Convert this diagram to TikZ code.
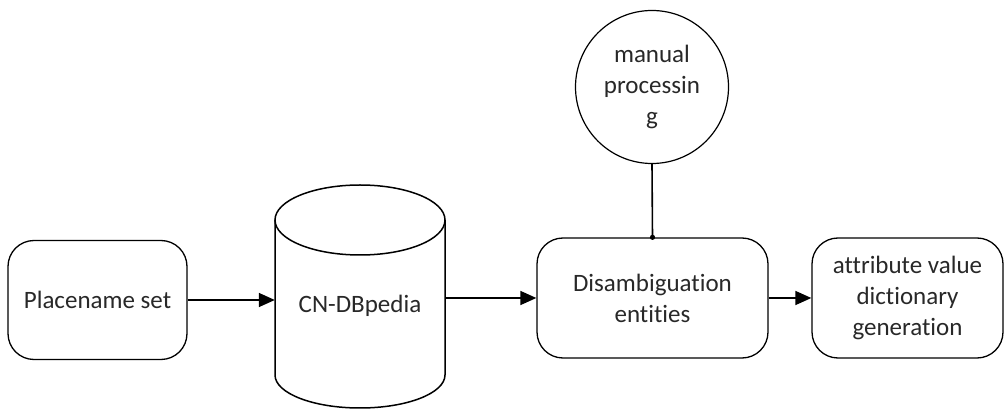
\documentclass[tikz,border=0pt]{standalone}
\usepackage{fontspec}
\setmainfont{Carlito}[Ligatures={NoCommon,NoDiscretionary,NoContextual}]
\usetikzlibrary{arrows.meta}
\definecolor{txt}{RGB}{40,40,40}
\begin{document}
\begin{tikzpicture}[x=1pt,y=-1pt,
  lbl/.style={font=\fontsize{25}{31}\selectfont, text=txt, align=center},
  rbox/.style={draw, line width=1.3pt, rounded corners=26pt, lbl},
  conn/.style={line width=1.6pt, -{Triangle[length=16pt,width=14pt]}}]
\useasboundingbox (0,0) rectangle (1004,411);
% Placename set
\node[rbox, minimum width=179pt, minimum height=119pt] (ps) at (97.5,300) {Placename set};
% cylinder
\node[minimum width=170pt, minimum height=223pt, inner sep=0pt] (db) at (360,296.5) {};
\draw[line width=1.5pt, fill=white] (275,220) -- (275,375) arc[start angle=180,end angle=0,x radius=85,y radius=33] -- (445,220);
\draw[line width=1.5pt] (360,220) ellipse[x radius=85, y radius=35];
\node[lbl] (dbt) at (360,306) {CN-DBpedia};
% Disambiguation
\node[rbox, minimum width=231pt, minimum height=120pt] (dis) at (652.5,298) {Disambiguation\\entities};
% manual processing
\node[draw, circle, line width=1.2pt, minimum size=153pt, inner sep=0pt, lbl] (man) at (652,87) {manual\\processin\\g};
% attribute box
\node[rbox, minimum width=191pt, minimum height=120pt] (att) at (907.5,298) {attribute value\\dictionary\\generation};
% connectors
\draw[conn] (ps.east) -- (ps.east -| db.west);
\draw[conn] (db.east |- dis.west) -- (dis.west);
\draw[conn] (dis.east) -- (att.west);
\draw[line width=1.6pt] (man.south) -- (dis.north);
\fill (dis.north) circle (2.6pt);
\end{tikzpicture}
\end{document}
